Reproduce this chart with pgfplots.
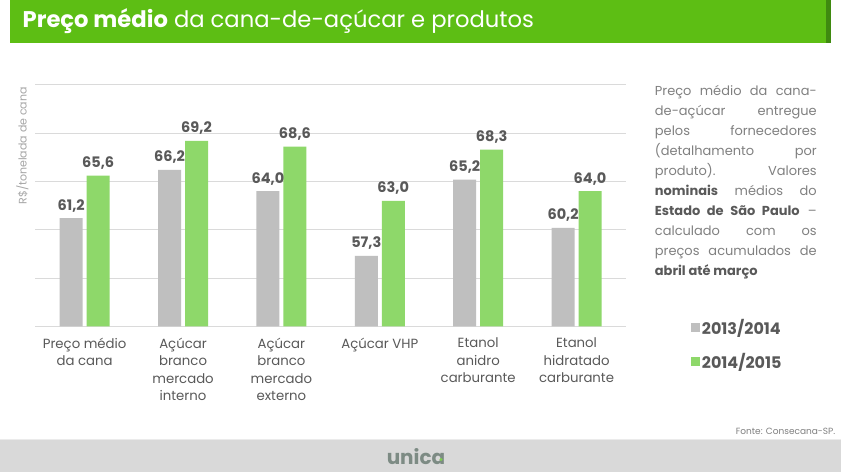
\documentclass[border=0pt]{standalone}
\usepackage{fontspec}
\setmainfont{Poppins}
\usepackage{pgfplots}
\pgfplotsset{compat=1.18}
\definecolor{titlegreen}{HTML}{5DBE14}
\definecolor{darkgreen}{HTML}{3F8A10}
\definecolor{bargray}{HTML}{BFBFBF}
\definecolor{bargreen}{HTML}{8ED86A}
\definecolor{txtdark}{HTML}{595959}
\definecolor{txtgray}{HTML}{808080}
\definecolor{gridgray}{HTML}{DADADA}
\definecolor{footgray}{HTML}{D9D9D9}
\definecolor{logogray}{HTML}{7D8B84}
\begin{document}
\begin{tikzpicture}[x=1pt,y=1pt]
\fill[white] (0,0) rectangle (841,473);
% title bar
\fill[titlegreen] (10,430.3) rectangle (826,473);
\fill[darkgreen] (826,430.3) rectangle (831,473);
\node[anchor=west, text=white, font=\fontsize{22.7}{26}\selectfont, inner sep=0] at (22,452)
  {\textbf{Preço médio} da cana-de-açúcar e produtos};
% y label
\node[rotate=90, text=black!35, font=\fontsize{11}{13}\selectfont, inner sep=0] at (22,327) {R\$/tonelada de cana};
\begin{axis}[
  at={(35pt,146.3pt)}, anchor=south west, scale only axis,
  width=591pt, height=241.7pt,
  xmin=-0.5, xmax=5.5, ymin=50, ymax=75,
  ytick={50,55,60,65,70,75}, yticklabels={},
  xtick={0,1,2,3,4,5},
  xticklabels={{Preço médio\\da cana},{Açúcar\\branco\\mercado\\interno},{Açúcar\\branco\\mercado\\externo},{Açúcar VHP},{Etanol\\anidro\\carburante},{Etanol\\hidratado\\carburante}},
  xticklabel style={align=center, font=\fontsize{13.3}{17.5}\selectfont, text=txtdark, anchor=north, yshift=-4pt},
  axis line style={draw=none},
  major tick style={draw=none},
  ymajorgrids, grid style={gridgray, line width=0.9pt},
  ybar=4pt, bar width=23pt,
  nodes near coords,
  nodes near coords style={font=\bfseries\fontsize{14.5}{16}\selectfont, text=txtdark, anchor=south, inner sep=0pt, yshift=6pt},
  /pgf/number format/.cd, use comma, fixed, fixed zerofill, precision=1, assume math mode=true,
  /pgfplots/.cd,
  legend style={at={(1.105,0.045)}, anchor=north west, draw=none, fill=none,
    font=\bfseries\fontsize{16}{18}\selectfont, text=txtdark, row sep=13pt,
    /tikz/every even column/.append style={column sep=3pt}},
  legend cell align=left,
  legend image code/.code={\fill[#1] (0pt,-4.5pt) rectangle (9pt,4.5pt);},
]
\addplot[fill=bargray, draw=none] coordinates {(0,61.2) (1,66.2) (2,64.0) (3,57.3) (4,65.2) (5,60.2)};
\addplot[fill=bargreen, draw=none] coordinates {(0,65.6) (1,69.2) (2,68.6) (3,63.0) (4,68.3) (5,64.0)};
\legend{2013/2014,2014/2015}
\end{axis}
% right text
\node[anchor=north west, inner sep=0, align=left, text=txtgray, font=\fontsize{13}{20}\selectfont] at (655,388) {%
\makebox[162pt][s]{Preço médio da cana-}\\
\makebox[162pt][s]{de-açúcar entregue}\\
\makebox[162pt][s]{pelos fornecedores}\\
\makebox[162pt][s]{(detalhamento por}\\
\makebox[162pt][s]{produto). Valores}\\
\makebox[162pt][s]{\textcolor{txtdark}{\textbf{nominais}} médios do}\\
\makebox[162pt][s]{\textcolor{txtdark}{\textbf{Estado de São Paulo}} –}\\
\makebox[162pt][s]{calculado com os}\\
\makebox[162pt][s]{preços acumulados de}\\
\textcolor{txtdark}{\textbf{abril até março}}};
% footer
\fill[footgray] (0,0) rectangle (841,32);
\draw[white!92!black, line width=1pt] (0,32.5) -- (841,32.5);
\node[anchor=east, text=txtgray, font=\fontsize{9}{11}\selectfont, inner sep=0] at (836,41) {Fonte: Consecana-SP.};
\node[text=logogray, font=\bfseries\fontsize{20}{22}\selectfont, inner sep=0] at (416,16) {unica};
\fill[bargreen!70!titlegreen] (441,13) circle (1.6);
\end{tikzpicture}
\end{document}
